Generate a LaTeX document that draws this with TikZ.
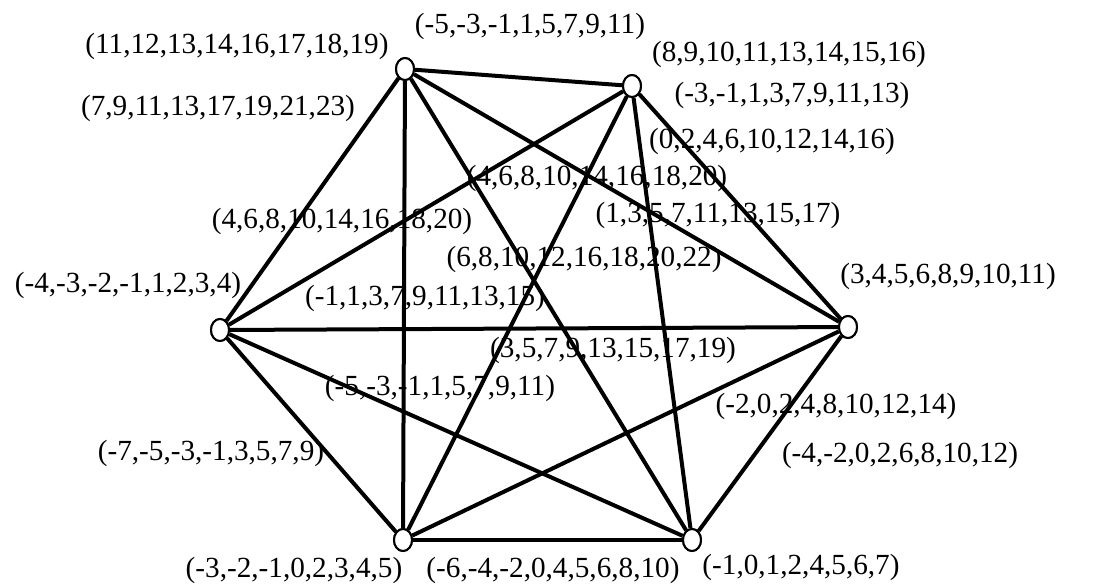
\documentclass[tikz,border=0pt]{standalone}
\usepackage{fontspec}
\setmainfont{Liberation Serif}
\usetikzlibrary{shapes.geometric}
\begin{document}
\begin{tikzpicture}[x=0.5pt, y=-0.5pt,
  vertex/.style={draw, ellipse, fill=white, line width=1pt,
    minimum width=9pt, minimum height=11pt, inner sep=0pt},
  edge/.style={line width=2pt},
  lab/.style={font=\fontsize{14.6}{17}\selectfont, inner sep=0pt}]
  \useasboundingbox (0,0) rectangle (1093,585);
  % the six vertices
  \node[vertex] (a) at (405,69) {};
  \node[vertex] (b) at (632,86) {};
  \node[vertex] (c) at (848,327) {};
  \node[vertex] (d) at (692,540) {};
  \node[vertex] (e) at (403,540) {};
  \node[vertex] (f) at (220,330) {};
  % every pair is joined
  \foreach \u/\v in {a/b,a/c,a/d,a/e,a/f,b/c,b/d,b/e,b/f,c/d,c/e,c/f,d/e,d/f,e/f}
    \draw[edge] (\u) -- (\v);
  \foreach \n in {a,b,c,d,e,f}
    \node[vertex] at (\n) {};
  % labels
  \node[lab] (la) at (237,46) {(11,12,13,14,16,17,18,19)};
  \node[lab] (lb) at (530,26) {(-5,-3,-1,1,5,7,9,11)};
  \node[lab] (lc) at (789,54) {(8,9,10,11,13,14,15,16)};
  \node[lab] (ld) at (792,95) {(-3,-1,1,3,7,9,11,13)};
  \node[lab] (le) at (218,108) {(7,9,11,13,17,19,21,23)};
  \node[lab] (lf) at (772,141) {(0,2,4,6,10,12,14,16)};
  \node[lab] (lg) at (597,178) {(4,6,8,10,14,16,18,20)};
  \node[lab] (lh) at (718,215) {(1,3,5,7,11,13,15,17)};
  \node[lab] (li) at (342,221) {(4,6,8,10,14,16,18,20)};
  \node[lab] (lj) at (584,259) {(6,8,10,12,16,18,20,22)};
  \node[lab] (lk) at (948,276) {(3,4,5,6,8,9,10,11)};
  \node[lab] (ll) at (128,285) {(-4,-3,-2,-1,1,2,3,4)};
  \node[lab] (lm) at (425,298) {(-1,1,3,7,9,11,13,15)};
  \node[lab] (ln) at (613,350) {(3,5,7,9,13,15,17,19)};
  \node[lab] (lo) at (440,388) {(-5,-3,-1,1,5,7,9,11)};
  \node[lab] (lp) at (836,406) {(-2,0,2,4,8,10,12,14)};
  \node[lab] (lq) at (211,453) {(-7,-5,-3,-1,3,5,7,9)};
  \node[lab] (lr) at (900,455) {(-4,-2,0,2,6,8,10,12)};
  \node[lab] (ls) at (294,570) {(-3,-2,-1,0,2,3,4,5)};
  \node[lab] (lt) at (553,570) {(-6,-4,-2,0,4,5,6,8,10)};
  \node[lab] (lu) at (801,567) {(-1,0,1,2,4,5,6,7)};
\end{tikzpicture}
\end{document}
